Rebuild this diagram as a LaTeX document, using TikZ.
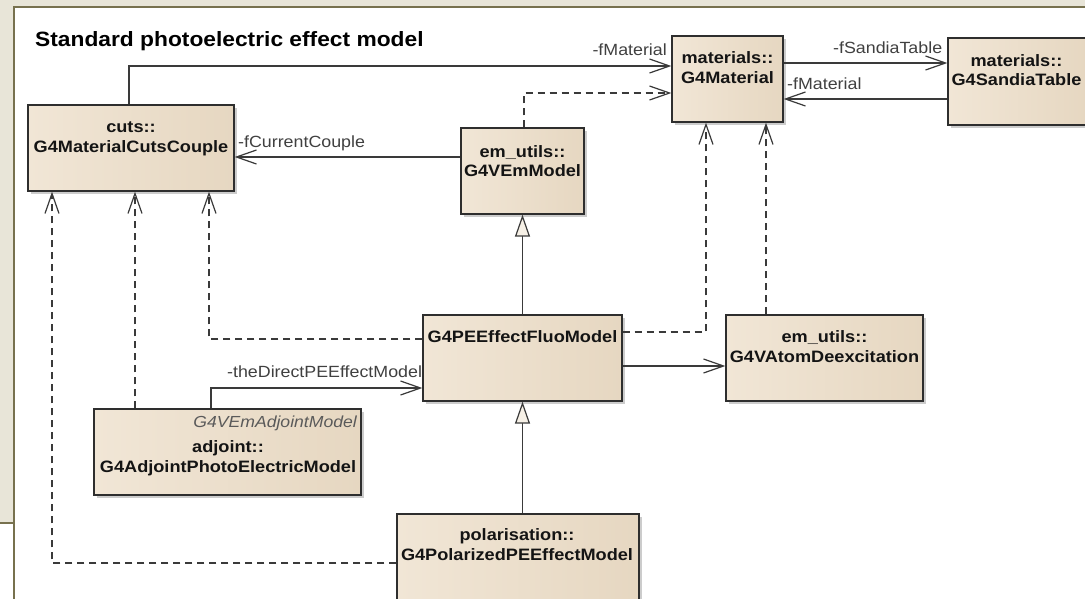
\documentclass[tikz,border=0pt]{standalone}
\usepackage{fontspec}
\setmainfont{Liberation Sans}
\newfontfamily\umlfont{Liberation Sans}[FakeStretch=1.1]
\usetikzlibrary{arrows.meta,shadows}
\definecolor{bgtex}{HTML}{E8E5D8}
\definecolor{framecol}{HTML}{77714E}
\definecolor{boxline}{HTML}{2E2E2E}
\definecolor{boxL}{HTML}{F1E6D6}
\definecolor{boxM}{HTML}{F9F2E8}
\definecolor{boxR}{HTML}{E6D7C1}
\definecolor{linecol}{HTML}{3A3A3A}
\definecolor{labelcol}{HTML}{404040}
\definecolor{stereocol}{HTML}{5A5A5A}
\definecolor{trifill}{HTML}{F6F0E6}
\tikzset{
  classbox/.style={draw=boxline, line width=1.3pt, left color=boxL, middle color=boxM, right color=boxR,
    drop shadow={shadow xshift=3pt, shadow yshift=-3pt, fill=black!20, opacity=1}, inner sep=0pt},
  boxtext/.style={font=\umlfont\bfseries\fontsize{16.5}{20}\selectfont, text=black!92, inner sep=0pt, anchor=base},
  stereo/.style={font=\umlfont\itshape\fontsize{16}{20}\selectfont, text=stereocol, inner sep=0pt, anchor=base east},
  lbl/.style={font=\umlfont\fontsize{16.2}{20}\selectfont, text=labelcol, inner sep=0pt},
  titletext/.style={font=\umlfont\bfseries\fontsize{20.7}{25}\selectfont, text=black, inner sep=0pt, anchor=base west},
  assoc/.style={draw=linecol, line width=1.2pt, -{Straight Barb[length=20pt, width=14pt, line width=1.2pt]}},
  dep/.style={assoc, dash pattern=on 7pt off 5pt},
  gen/.style={draw=linecol, line width=1.2pt, -{Triangle[open, fill=trifill, length=22pt, width=15pt, line width=1.2pt]}},
  framel/.style={draw=framecol, line width=2pt}
}
\begin{document}
\begin{tikzpicture}[x=1pt, y=-1pt]
\useasboundingbox (0,0) rectangle (1085,598);
% background and frame
\fill[bgtex] (0,0) rectangle (1085,598);
\fill[white] (14,7) rectangle (1090,600);
\fill[white] (0,523) rectangle (14,600);
\draw[framel] (0,523) -- (14,523);
\draw[framel] (1090,7) -- (14,7) -- (14,600);

% title
\node[titletext] (title) at (35,46) {Standard photoelectric effect model};

% class boxes
\node[classbox, minimum width=206pt, minimum height=86pt] (cuts) at (131,148) {};
\node[classbox, minimum width=111pt, minimum height=86pt] (mat) at (727.5,79) {};
\node[classbox, minimum width=139pt, minimum height=87pt] (sandia) at (1017.5,81.5) {};
\node[classbox, minimum width=123pt, minimum height=86pt] (vem) at (522.5,171) {};
\node[classbox, minimum width=199pt, minimum height=86pt] (fluo) at (522.5,358) {};
\node[classbox, minimum width=197pt, minimum height=86pt] (atom) at (824.5,358) {};
\node[classbox, minimum width=267pt, minimum height=86pt] (adj) at (227.5,452) {};
\node[classbox, minimum width=242pt, minimum height=86pt] (pol) at (518,557) {};

% box texts
\node[boxtext] (cutsA) at (131,132) {cuts::};
\node[boxtext] (cutsB) at (131,152) {G4MaterialCutsCouple};
\node[boxtext] (matA) at (727.5,63) {materials::};
\node[boxtext] (matB) at (727.5,83) {G4Material};
\node[boxtext] (sandiaA) at (1016.5,66) {materials::};
\node[boxtext] (sandiaB) at (1016.5,85) {G4SandiaTable};
\node[boxtext] (vemA) at (522.5,157) {em\_utils::};
\node[boxtext] (vemB) at (522.5,176) {G4VEmModel};
\node[boxtext] (fluoA) at (522.5,342) {G4PEEffectFluoModel};
\node[boxtext] (atomA) at (824.5,342) {em\_utils::};
\node[boxtext] (atomB) at (824.5,362) {G4VAtomDeexcitation};
\node[stereo] (adjS) at (357,427) {G4VEmAdjointModel};
\node[boxtext] (adjA) at (228,452) {adjoint::};
\node[boxtext] (adjB) at (228,472) {G4AdjointPhotoElectricModel};
\node[boxtext] (polA) at (517,540) {polarisation::};
\node[boxtext] (polB) at (517,560) {G4PolarizedPEEffectModel};

% connectors
\draw[assoc] ([xshift=-2pt]cuts.north) |- ([yshift=13pt]mat.west);
\draw[dep] ([xshift=1.5pt]vem.north) |- ([yshift=-14pt]mat.west);
\coordinate (c1) at ([yshift=14pt]vem.west);
\draw[assoc] (c1) -- (c1 -| cuts.east);
\coordinate (c2) at ([yshift=16pt]mat.east);
\draw[assoc] (c2) -- (c2 -| sandia.west);
\coordinate (c3) at ([yshift=-17.5pt]sandia.west);
\draw[assoc] (c3) -- (c3 -| mat.east);
\draw[dep] ([yshift=26pt]fluo.east) -| ([xshift=-21.5pt]mat.south);
\coordinate (c4) at ([xshift=-58.5pt]atom.north);
\draw[dep] (c4) -- (c4 |- mat.south);
\draw[gen] (fluo.north) -- (vem.south);
\coordinate (c5) at ([yshift=-8pt]fluo.east);
\draw[assoc] (c5) -- (c5 -| atom.west);
\draw[dep] ([yshift=19pt]fluo.west) -| ([xshift=78pt]cuts.south);
\draw[assoc] ([xshift=-16.5pt]adj.north) |- ([yshift=-30pt]fluo.west);
\coordinate (c6) at ([xshift=-92.5pt]adj.north);
\draw[dep] (c6) -- (c6 |- cuts.south);
\draw[gen] (fluo.south |- pol.north) -- (fluo.south);
\draw[dep] ([yshift=-6pt]pol.west) -| ([xshift=-79pt]cuts.south);

% connector labels
\node[lbl, anchor=base east] (lblA) at (667,55) {-fMaterial};
\node[lbl, anchor=base west] (lblB) at (238,147) {-fCurrentCouple};
\node[lbl, anchor=base west] (lblC) at (833,53) {-fSandiaTable};
\node[lbl, anchor=base west] (lblD) at (787,89) {-fMaterial};
\node[lbl, anchor=base west] (lblE) at (227,377) {-theDirectPEEffectModel};
\end{tikzpicture}
\end{document}
